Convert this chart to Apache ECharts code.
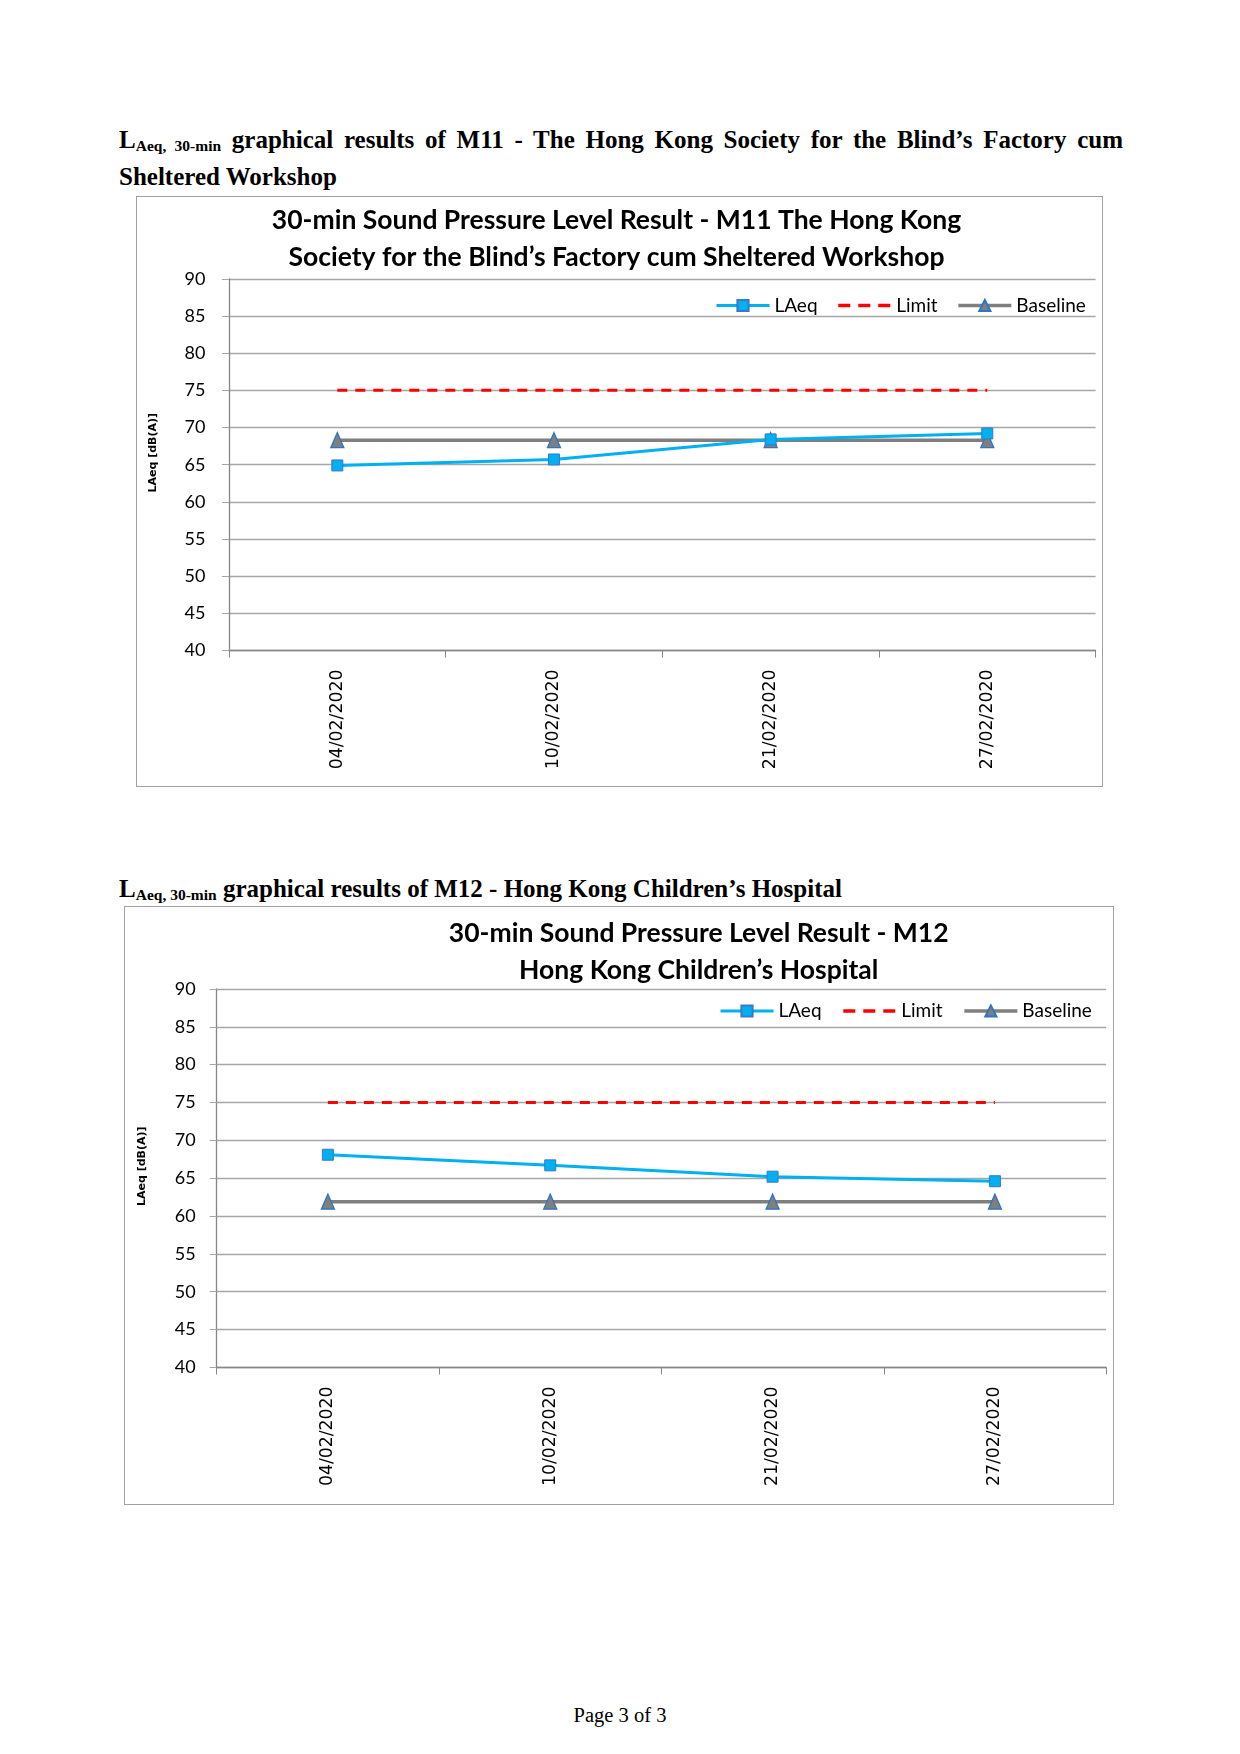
<!DOCTYPE html>
<html>
<head>
<meta charset="utf-8">
<script src="https://cdn.jsdelivr.net/npm/echarts@6/dist/echarts.min.js"></script>
<style>
html,body{margin:0;padding:0;background:#fff;}
body{width:1240px;height:1754px;position:relative;overflow:hidden;}
.head{position:absolute;font-family:"Liberation Serif","Times New Roman",serif;font-weight:bold;font-size:25px;color:#000;}
.head sub{font-size:15.5px;vertical-align:baseline;position:relative;top:3px;line-height:0;}
#h1{left:119px;top:120.5px;width:1004px;line-height:37px;}
#h1 .l1{display:block;text-align:justify;text-align-last:justify;}
#h2{left:119px;top:874px;line-height:30px;white-space:nowrap;}
.box{position:absolute;border:1.5px solid #a0a0a0;box-sizing:border-box;}
#c1{left:135.5px;top:196px;width:967.5px;height:591px;}
#c2{left:124.3px;top:906px;width:990px;height:599px;}
#foot{position:absolute;left:0;width:1240px;top:1703px;text-align:center;font-family:"Liberation Serif","Times New Roman",serif;font-size:20.5px;line-height:24px;}
</style>
</head>
<body>
<div id="h1" class="head"><span class="l1">L<sub>Aeq, 30-min</sub> graphical results of M11 - The Hong Kong Society for the Blind’s Factory cum</span>Sheltered Workshop</div>
<div id="h2" class="head">L<sub>Aeq, 30-min</sub> graphical results of M12 - Hong Kong Children’s Hospital</div>
<div id="c1" class="box"></div>
<div id="c2" class="box"></div>
<div id="foot">Page 3 of 3</div>
<script>
const categories = ['04/02/2020', '10/02/2020', '21/02/2020', '27/02/2020'];
const m11LAeq = [64.9, 65.7, 68.4, 69.2];
const m11Limit = [75, 75, 75, 75];
const m11Baseline = [68.3, 68.3, 68.3, 68.3];
const m12LAeq = [68.1, 66.7, 65.2, 64.6];
const m12Limit = [75, 75, 75, 75];
const m12Baseline = [61.9, 61.9, 61.9, 61.9];
const yMin = 40, yMax = 90, yStep = 5;
const m11Title = '30-min Sound Pressure Level Result - M11 The Hong Kong\nSociety for the Blind’s Factory cum Sheltered Workshop';
const m12Title = '30-min Sound Pressure Level Result - M12\nHong Kong Children’s Hospital';

const calibri = 'Lato, "Open Sans", sans-serif';

function makeOption(cfg) {
  return {
    animation: false,
    title: {
      text: cfg.title, padding: 0,
      left: cfg.titleX, top: cfg.titleTop, textAlign: 'center',
      textStyle: {fontFamily: calibri, fontWeight: 'bold', fontSize: 26.5, lineHeight: 37, color: '#000'}
    },
    legend: {
      left: cfg.legendX, top: cfg.legendY, padding: 0,
      itemWidth: 53, itemHeight: 14, itemGap: cfg.legendGap,
      textStyle: {fontFamily: calibri, fontSize: 19, color: '#000'},
      data: [
        {name: 'LAeq', lineStyle: {width: 3}},
        {name: 'Limit', itemStyle: {opacity: 0}, lineStyle: {width: 3.5, type: [12, 8]}},
        {name: 'Baseline', lineStyle: {width: 3.5}}
      ]
    },
    grid: {left: cfg.grid[0], top: cfg.grid[1], width: cfg.grid[2], height: cfg.grid[3], containLabel: false},
    xAxis: {
      type: 'category', data: categories, boundaryGap: true,
      axisLine: {lineStyle: {color: '#868686', width: 1.3}},
      axisTick: {show: true, length: 7, lineStyle: {color: '#868686'}},
      axisLabel: {rotate: 90, margin: 19, fontFamily: '"DejaVu Sans", Verdana, sans-serif', fontSize: 17.3, color: '#000'},
      splitLine: {show: false}
    },
    yAxis: {
      type: 'value', min: yMin, max: yMax, interval: yStep,
      name: 'LAeq [dB(A)]', nameLocation: 'middle', nameGap: cfg.nameGap, nameRotate: 90,
      nameTextStyle: {fontFamily: '"DejaVu Sans", Verdana, sans-serif', fontWeight: 'bold', fontSize: 11, color: '#000', padding: [0, 0, 0, 24]},
      axisLine: {show: true, lineStyle: {color: '#868686', width: 1.3}},
      axisTick: {show: true, inside: false, length: 7, lineStyle: {color: '#a6a6a6'}},
      axisLabel: {margin: cfg.labelMargin, fontFamily: calibri, fontSize: 18, color: '#000'},
      splitLine: {show: true, lineStyle: {color: '#a6a6a6', width: 1.3}}
    },
    series: [
      {
        name: 'LAeq', type: 'line', data: cfg.laeq,
        symbol: 'rect', symbolSize: 11,
        lineStyle: {color: '#00b0f0', width: 3},
        itemStyle: {color: '#00b0f0', borderColor: '#3b78c6', borderWidth: 1},
        z: 4
      },
      {
        name: 'Limit', type: 'line', data: cfg.limit,
        symbol: 'none',
        lineStyle: {color: '#ff0000', width: 3, type: [10, 8]},
        itemStyle: {color: '#ff0000'},
        z: 2
      },
      {
        name: 'Baseline', type: 'line', data: cfg.baseline,
        symbol: 'triangle', symbolSize: [13, 15],
        lineStyle: {color: '#7f7f7f', width: 3.5},
        itemStyle: {color: '#7f7f7f', borderColor: '#2e75c6', borderWidth: 1.3},
        z: 3
      }
    ]
  };
}

const c1 = echarts.init(document.getElementById('c1'), null, {renderer: 'canvas'});
c1.setOption(makeOption({
  title: m11Title, titleX: 479.5, titleTop: 5,
  legendX: 578, legendY: 99, legendGap: 19,
  grid: [92, 81.8, 866.6, 371.8], nameGap: 70.5, labelMargin: 23.5,
  laeq: m11LAeq, limit: m11Limit, baseline: m11Baseline
}));
const c2 = echarts.init(document.getElementById('c2'), null, {renderer: 'canvas'});
c2.setOption(makeOption({
  title: m12Title, titleX: 573.7, titleTop: 7.5,
  legendX: 594, legendY: 94.5, legendGap: 20,
  grid: [91.7, 82, 889.4, 378.4], nameGap: 69.3, labelMargin: 21,
  laeq: m12LAeq, limit: m12Limit, baseline: m12Baseline
}));
</script>
</body>
</html>
